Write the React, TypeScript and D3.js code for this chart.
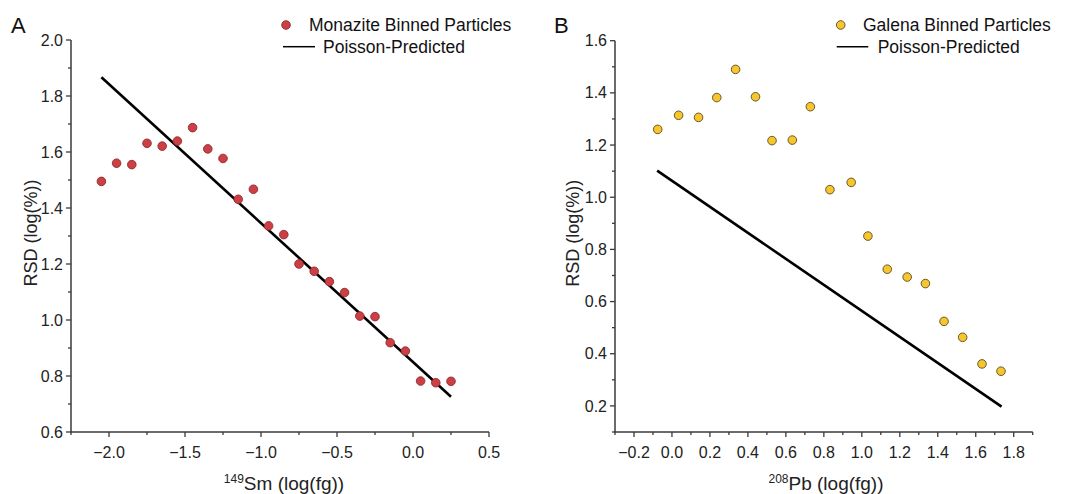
import React from "react";
import * as d3 from "d3";

// ---------- Data ----------
const monaziteX = [-2.05, -1.95, -1.85, -1.75, -1.65, -1.55, -1.45, -1.35, -1.25, -1.15, -1.05, -0.95, -0.85, -0.75, -0.65, -0.55, -0.45, -0.35, -0.25, -0.15, -0.05, 0.05, 0.15, 0.25];
const monaziteY = [1.495, 1.56, 1.555, 1.631, 1.621, 1.639, 1.687, 1.611, 1.577, 1.431, 1.467, 1.336, 1.305, 1.2, 1.174, 1.137, 1.098, 1.014, 1.012, 0.919, 0.889, 0.782, 0.776, 0.781];
const monazitePoissonX = [-2.05, 0.25];
const monazitePoissonY = [1.867, 0.726];

const galenaX = [-0.075, 0.035, 0.14, 0.236, 0.335, 0.44, 0.527, 0.634, 0.729, 0.832, 0.944, 1.032, 1.134, 1.239, 1.335, 1.433, 1.531, 1.633, 1.733];
const galenaY = [1.26, 1.314, 1.306, 1.382, 1.49, 1.385, 1.217, 1.219, 1.347, 1.029, 1.057, 0.851, 0.724, 0.694, 0.669, 0.524, 0.463, 0.361, 0.333];
const galenaPoissonX = [-0.078, 1.736];
const galenaPoissonY = [1.102, 0.197];

const leftXTicks = [-2.0, -1.5, -1.0, -0.5, 0.0, 0.5];
const leftXMinor = [-2.25, -1.75, -1.25, -0.75, -0.25, 0.25];
const leftYTicks = [0.6, 0.8, 1.0, 1.2, 1.4, 1.6, 1.8, 2.0];
const leftYMinor = [0.7, 0.9, 1.1, 1.3, 1.5, 1.7, 1.9];

const rightXTicks = [-0.2, 0.0, 0.2, 0.4, 0.6, 0.8, 1.0, 1.2, 1.4, 1.6, 1.8];
const rightXMinor = [-0.3, -0.1, 0.1, 0.3, 0.5, 0.7, 0.9, 1.1, 1.3, 1.5, 1.7, 1.9];
const rightYTicks = [0.2, 0.4, 0.6, 0.8, 1.0, 1.2, 1.4, 1.6];
const rightYMinor = [0.1, 0.3, 0.5, 0.7, 0.9, 1.1, 1.3, 1.5];

const FONT = "'Liberation Sans', Arial, Helvetica, sans-serif";
const AXIS_COLOR = "#3a3a3a";
const fmt = d3.format(".1f");

type PanelProps = {
  letter: string;
  letterX: number;
  x0: number; x1: number; y0: number; y1: number;
  xDomain: [number, number]; yDomain: [number, number];
  xTicks: number[]; xMinor: number[]; yTicks: number[]; yMinor: number[];
  px: number[]; py: number[]; lx: number[]; ly: number[];
  fill: string; stroke: string;
  sup: string; elem: string; yLabelX: number; xLabelX: number;
  legendName: string; legMarkerX: number; legTextX: number; legLineX0: number; legLineX1: number; legLineTextX: number;
};

function Panel(p: PanelProps) {
  const x = d3.scaleLinear().domain(p.xDomain).range([p.x0, p.x1]);
  const y = d3.scaleLinear().domain(p.yDomain).range([p.y1, p.y0]);
  const line = d3.line<number>().x((d) => x(p.lx[d])).y((d) => y(p.ly[d]));
  const cy = (p.y0 + p.y1) / 2 - 3;
  return (
    <g fontFamily={FONT}>
      <text x={p.letterX} y={33} fontSize={22} fill="#111">{p.letter}</text>
      {/* axes */}
      <line x1={p.x0} x2={p.x0} y1={p.y0} y2={p.y1} stroke={AXIS_COLOR} strokeWidth={1.5} />
      <line x1={p.x0 - 1} x2={p.x1} y1={p.y1} y2={p.y1} stroke={AXIS_COLOR} strokeWidth={1.5} />
      {p.yTicks.map((t) => (
        <g key={"yt" + t}>
          <line x1={p.x0 - 5} x2={p.x0} y1={y(t)} y2={y(t)} stroke={AXIS_COLOR} strokeWidth={1.3} />
          <text x={p.x0 - 8} y={y(t)} dy="0.35em" textAnchor="end" fontSize={16} fill="#222">{fmt(t)}</text>
        </g>
      ))}
      {p.yMinor.map((t) => (
        <line key={"ym" + t} x1={p.x0 - 3} x2={p.x0} y1={y(t)} y2={y(t)} stroke={AXIS_COLOR} strokeWidth={1.3} />
      ))}
      {p.xTicks.map((t) => (
        <g key={"xt" + t}>
          <line x1={x(t)} x2={x(t)} y1={p.y1} y2={p.y1 + 5} stroke={AXIS_COLOR} strokeWidth={1.3} />
          <text x={x(t)} y={p.y1 + 26} textAnchor="middle" fontSize={16} fill="#222">{fmt(t)}</text>
        </g>
      ))}
      {p.xMinor.map((t) => (
        <line key={"xm" + t} x1={x(t)} x2={x(t)} y1={p.y1} y2={p.y1 + 3} stroke={AXIS_COLOR} strokeWidth={1.3} />
      ))}
      {/* axis labels */}
      <text x={p.xLabelX} y={490} textAnchor="middle" fontSize={19} fill="#222">
        <tspan fontSize={12} dy="-7">{p.sup}</tspan>
        <tspan dy="7">{p.elem} (log(fg))</tspan>
      </text>
      <text transform={`translate(${p.yLabelX},${cy}) rotate(-90)`} textAnchor="middle" fontSize={18} fill="#222">RSD (log(%))</text>
      {/* Poisson line */}
      <path d={line(d3.range(p.lx.length)) || ""} fill="none" stroke="#000" strokeWidth={2.6} />
      {/* points */}
      {p.px.map((v, i) => (
        <circle key={"pt" + i} cx={x(v)} cy={y(p.py[i])} r={4.3} fill={p.fill} stroke={p.stroke} strokeWidth={0.9} />
      ))}
      {/* legend */}
      <circle cx={p.legMarkerX} cy={25} r={4.3} fill={p.fill} stroke={p.stroke} strokeWidth={0.9} />
      <text x={p.legTextX} y={31} fontSize={17.5} fill="#111">{p.legendName}</text>
      <line x1={p.legLineX0} x2={p.legLineX1} y1={46.7} y2={46.7} stroke="#000" strokeWidth={1.5} />
      <text x={p.legLineTextX} y={52.5} fontSize={17.5} fill="#111">Poisson-Predicted</text>
    </g>
  );
}

export default function App() {
  return (
    <svg width={1070} height={494} style={{ position: "absolute", left: 0, top: 0, background: "#fff" }}>
      <rect width={1070} height={494} fill="#fff" />
      <Panel
        letter="A" letterX={11}
        x0={71} x1={489} y0={40} y1={432}
        xDomain={[-2.25, 0.5]} yDomain={[0.6, 2.0]}
        xTicks={leftXTicks} xMinor={leftXMinor} yTicks={leftYTicks} yMinor={leftYMinor}
        px={monaziteX} py={monaziteY} lx={monazitePoissonX} ly={monazitePoissonY}
        fill="#cc3f45" stroke="#8e2a2e"
        sup="149" elem="Sm" yLabelX={37} xLabelX={284}
        legendName="Monazite Binned Particles" legMarkerX={286} legTextX={309}
        legLineX0={283} legLineX1={315} legLineTextX={323}
      />
      <Panel
        letter="B" letterX={554}
        x0={615} x1={1032.7} y0={40.7} y1={432}
        xDomain={[-0.3, 1.9]} yDomain={[0.1, 1.6]}
        xTicks={rightXTicks} xMinor={rightXMinor} yTicks={rightYTicks} yMinor={rightYMinor}
        px={galenaX} py={galenaY} lx={galenaPoissonX} ly={galenaPoissonY}
        fill="#f7c52e" stroke="#5a4a20"
        sup="208" elem="Pb" yLabelX={579} xLabelX={826}
        legendName="Galena Binned Particles" legMarkerX={840.7} legTextX={863}
        legLineX0={836.7} legLineX1={868.3} legLineTextX={877.7}
      />
    </svg>
  );
}
